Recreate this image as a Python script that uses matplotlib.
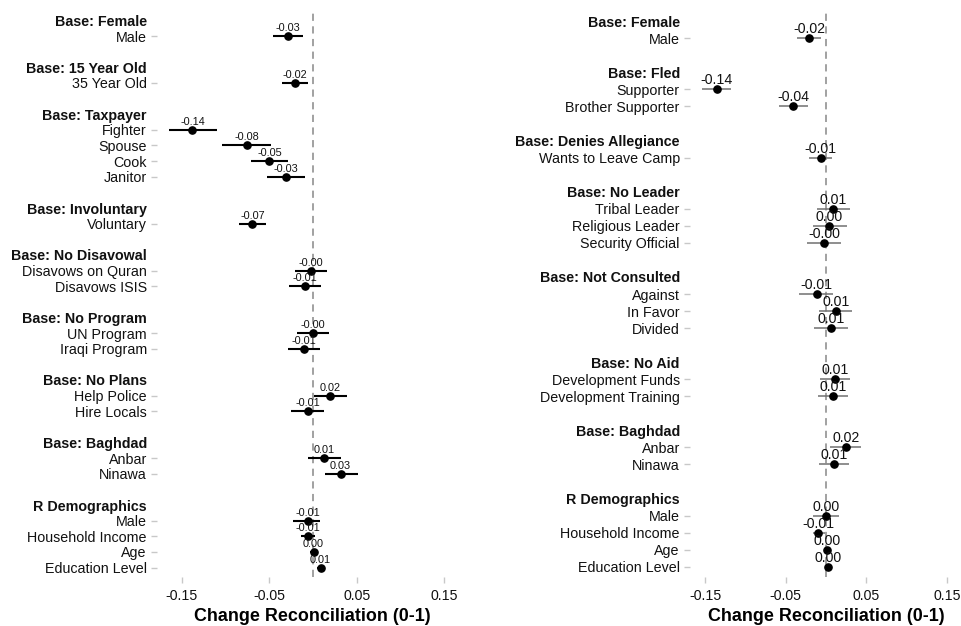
import numpy as np
import matplotlib.pyplot as plt

plt.rcParams['font.family'] = ['Liberation Sans', 'DejaVu Sans']

# left panel: each group is compared to its base level
left_groups = ['Base: Female', 'Base: 15 Year Old', 'Base: Taxpayer', 'Base: Involuntary',
               'Base: No Disavowal', 'Base: No Program', 'Base: No Plans', 'Base: Baghdad',
               'R Demographics']
left_items = [['Male'], ['35 Year Old'], ['Fighter', 'Spouse', 'Cook', 'Janitor'], ['Voluntary'],
              ['Disavows on Quran', 'Disavows ISIS'], ['UN Program', 'Iraqi Program'],
              ['Help Police', 'Hire Locals'], ['Anbar', 'Ninawa'],
              ['Male', 'Household Income', 'Age', 'Education Level']]
left_est = [-0.029, -0.0206, -0.1376, -0.0754, -0.0496, -0.031, -0.069, -0.0023, -0.0096,
            -0.0004, -0.0099, 0.0198, -0.0062, 0.0129, 0.0315, -0.0057, -0.0055, 0.0007, 0.0087]
left_lo = [-0.046, -0.035, -0.164, -0.104, -0.071, -0.0526, -0.0842, -0.0206, -0.0274,
           -0.0187, -0.0282, 0.0007, -0.0245, -0.0062, 0.0133, -0.0229, -0.0137, -0.003, 0.0046]
left_hi = [-0.0114, -0.0054, -0.110, -0.048, -0.028, -0.0088, -0.0537, 0.0163, 0.0091,
           0.0186, 0.0083, 0.0389, 0.0121, 0.0323, 0.051, 0.0083, 0.0026, 0.003, 0.013]

# right panel
right_groups = ['Base: Female', 'Base: Fled', 'Base: Denies Allegiance', 'Base: No Leader',
                'Base: Not Consulted', 'Base: No Aid', 'Base: Baghdad', 'R Demographics']
right_items = [['Male'], ['Supporter', 'Brother Supporter'], ['Wants to Leave Camp'],
               ['Tribal Leader', 'Religious Leader', 'Security Official'],
               ['Against', 'In Favor', 'Divided'], ['Development Funds', 'Development Training'],
               ['Anbar', 'Ninawa'], ['Male', 'Household Income', 'Age', 'Education Level']]
right_est = [-0.0211, -0.1356, -0.0405, -0.0066, 0.0091, 0.0041, -0.0025, -0.0116, 0.012,
             0.0058, 0.0112, 0.0091, 0.0244, 0.0099, 0.0003, -0.0095, 0.0008, 0.002]
right_lo = [-0.0356, -0.1535, -0.0583, -0.0207, -0.0116, -0.0165, -0.0232, -0.0331, -0.0087,
            -0.0145, -0.0074, -0.0095, 0.005, -0.0087, -0.016, -0.0165, -0.001, 0.0005]
right_hi = [-0.0066, -0.1183, -0.0219, 0.0078, 0.0298, 0.0257, 0.0182, 0.0091, 0.0326,
            0.0269, 0.0298, 0.0277, 0.043, 0.0289, 0.016, -0.0012, 0.0026, 0.0035]

W, H = 961, 626


def build_rows(groups, items):
    # header row, item rows, then one blank row per group
    rows, labels, is_header, item_rows = [], [], [], []
    r = 0
    for g, its in zip(groups, items):
        rows.append(r); labels.append(g); is_header.append(True)
        r += 1
        for it in its:
            rows.append(r); labels.append(it); is_header.append(False)
            item_rows.append(r)
            r += 1
        r += 1
    return rows, labels, is_header, item_rows, r - 2


def draw_panel(ax, groups, items, est, lo, hi, xlim, ci_color, ci_lw, val_size):
    rows, labels, is_header, item_rows, last = build_rows(groups, items)
    y = np.array(item_rows)

    ax.axvline(0, color='#9a9a9a', lw=1.3, ls=(0, (4, 3)), zorder=1)
    ax.hlines(y, lo, hi, color=ci_color, lw=ci_lw, zorder=2)
    ax.plot(est, y, 'o', color='black', ms=5.2, zorder=3)
    for v, yy in zip(est, y):
        ax.annotate('%.2f' % v, (v, yy), xytext=(0, 3.6), textcoords='offset points',
                    ha='center', va='baseline', fontsize=val_size, color='#111111', zorder=4)

    ax.set_yticks(rows)
    ax.set_yticklabels(labels)
    ticks = ax.yaxis.get_major_ticks()
    for t, lab, hd in zip(ticks, ax.get_yticklabels(), is_header):
        if hd:
            lab.set_fontweight('bold')
            t.tick1line.set_visible(False)
    ax.set_ylim(last + 0.6, -0.6)
    ax.set_xlim(*xlim)
    ax.set_xticks([-0.15, -0.05, 0.05, 0.15])
    ax.set_xticklabels(['-0.15', '-0.05', '0.05', '0.15'])
    ax.tick_params(axis='y', length=4.3, width=1, color='#c8c8c8', pad=3,
                   labelsize=10.3, labelcolor='#111111')
    ax.tick_params(axis='x', length=4.3, width=1, color='#c8c8c8', pad=4,
                   labelsize=10.2, labelcolor='#111111')
    for s in ax.spines.values():
        s.set_visible(False)
    ax.set_xlabel('Change Reconciliation (0-1)', fontsize=12.9, fontweight='bold', labelpad=4)


fig = plt.figure(figsize=(W / 100, H / 100), dpi=100)
bottom = 1 - 577 / H
height = 566 / H
ax1 = fig.add_axes([157 / W, bottom, 311 / W, height])
ax2 = fig.add_axes([690 / W, bottom, 273 / W, height])

draw_panel(ax1, left_groups, left_items, left_est, left_lo, left_hi,
           (-0.178, 0.177), 'black', 1.5, 7.8)
draw_panel(ax2, right_groups, right_items, right_est, right_lo, right_hi,
           (-0.169, 0.170), '#707070', 1.1, 10.2)

fig.savefig('out.png', dpi=100)
